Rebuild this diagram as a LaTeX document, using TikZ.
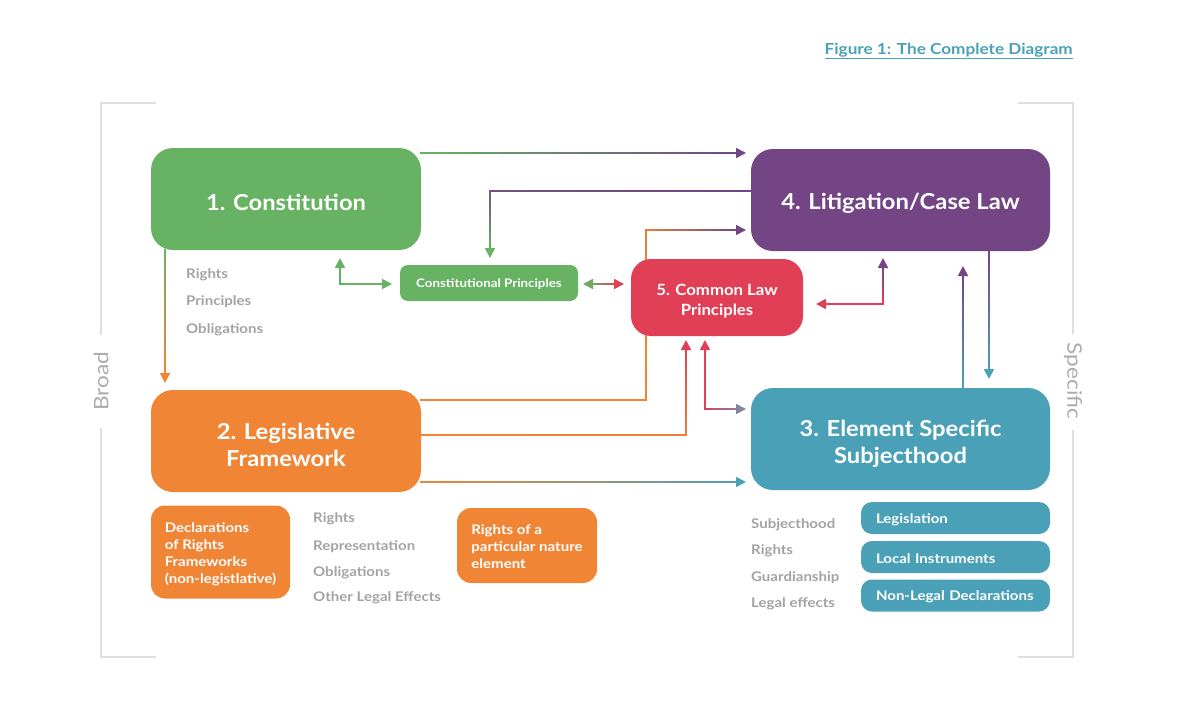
\documentclass[tikz,border=0pt]{standalone}
\usepackage{fontspec}
\setmainfont{Lato}
\newfontfamily\hfont{Lato}[FakeStretch=1.08]
\newfontfamily\bfont{Lato}[FakeStretch=1.13]
\usetikzlibrary{calc,arrows.meta}
\definecolor{cgreen}{HTML}{67B363}
\definecolor{cpurple}{HTML}{734585}
\definecolor{corange}{HTML}{F08535}
\definecolor{cteal}{HTML}{4AA1B7}
\definecolor{cred}{HTML}{E03F56}
\definecolor{cslate}{HTML}{7E86A0}
\definecolor{cgraytext}{HTML}{A3A3A3}
\definecolor{cbracket}{HTML}{DEDEDE}
\newcommand\lowr[2]{\raisebox{-#1}[\height][\depth]{#2}}
\tikzset{
  conn/.style={line width=1.7pt, line cap=rect},
  tipconn/.style={line width=1.7pt, -{Triangle[length=10pt,width=10pt]}},
  bigbox/.style={rounded corners=22pt, text=white, align=center, inner sep=0pt,
    font=\hfont\bfseries\fontsize{22}{27}\selectfont},
  smallbox/.style={rounded corners=14pt, text=white, align=left, inner sep=0pt,
    font=\bfont\bfseries\fontsize{13.3}{17}\selectfont},
  tealbox/.style={rounded corners=11pt, fill=cteal, text=white, align=left,
    inner xsep=15pt, inner ysep=0pt, text width=159pt, minimum height=32pt,
    font=\bfont\bfseries\fontsize{13.3}{16}\selectfont},
  graylabel/.style={anchor=west, text=cgraytext, inner sep=0pt,
    font=\bfont\bfseries\fontsize{13.3}{16}\selectfont},
  bracket/.style={draw=cbracket, line width=1.5pt},
  sidelabel/.style={text=cgraytext!90, inner sep=0pt, font=\bfont\fontsize{20}{22}\selectfont},
}
\newcommand\gseg[6]{%
  \foreach \i in {0,...,11}{%
    \pgfmathsetmacro\fa{\i/12}%
    \pgfmathsetmacro\fb{(\i+1)/12}%
    \pgfmathtruncatemacro\pc{#5+(#6-#5)*(\i+0.5)/12}%
    \draw[conn, draw={#4!\pc!#3}] ($(#1)!\fa!(#2)$) -- ($(#1)!\fb!(#2)$);
  }}
\newcommand\gsegA[6]{%
  \coordinate (gtmp) at ($(#2)!5pt!(#1)$);
  \gseg{#1}{gtmp}{#3}{#4}{#5}{#6}%
  \draw[tipconn, draw={#4!#6!#3}] ($(#2)!10pt!(#1)$) -- (#2);}
\begin{document}
\begin{tikzpicture}[x=1pt,y=-1pt]
\useasboundingbox (0,0) rectangle (1179,717);
% connector coordinates (drawn first: boxes lie over them)
\coordinate (c1s) at (421,153); \coordinate (c1e) at (746,153);
\coordinate (c2s) at (751,191); \coordinate (c2b) at (490,191); \coordinate (c2e) at (490,258);
\coordinate (c3s) at (165,250); \coordinate (c3e) at (165,383);
\coordinate (c4b) at (340,284); \coordinate (c4u) at (340,258); \coordinate (c4r) at (392,284);
\coordinate (c5m) at (603,284); \coordinate (c5l) at (583,284); \coordinate (c5r) at (624,284);
\coordinate (c6s) at (421,400); \coordinate (c6b) at (646,400); \coordinate (c6c) at (646,230); \coordinate (c6e) at (746,230);
\coordinate (c7s) at (421,435); \coordinate (c7b) at (686,435); \coordinate (c7e) at (686,340);
\coordinate (c8u) at (705,340); \coordinate (c8b) at (705,409); \coordinate (c8r) at (746,409);
\coordinate (c9s) at (421,482); \coordinate (c9e) at (746,482);
\coordinate (c10l) at (816,304); \coordinate (c10b) at (883,304); \coordinate (c10u) at (883,258);
\coordinate (c11s) at (963,388); \coordinate (c11e) at (963,266);
\coordinate (c12s) at (989,251); \coordinate (c12e) at (989,379);
% connectors
\gsegA{c1s}{c1e}{cgreen}{cpurple}{0}{100}
\gseg{c2s}{c2b}{cpurple}{cgreen}{0}{15}
\gsegA{c2b}{c2e}{cpurple}{cgreen}{15}{100}
\gsegA{c3s}{c3e}{cgreen}{corange}{0}{100}
\gsegA{c4b}{c4u}{cgreen}{cgreen}{0}{0}
\gsegA{c4b}{c4r}{cgreen}{cgreen}{0}{0}
\gsegA{c5m}{c5l}{cgreen}{cred}{50}{10}
\gsegA{c5m}{c5r}{cgreen}{cred}{50}{100}
\gseg{c6s}{c6b}{corange}{cpurple}{0}{0}
\gseg{c6b}{c6c}{corange}{cpurple}{0}{10}
\gsegA{c6c}{c6e}{corange}{cpurple}{10}{100}
\gseg{c7s}{c7b}{corange}{cred}{0}{10}
\gsegA{c7b}{c7e}{corange}{cred}{10}{100}
\gsegA{c8b}{c8u}{cred}{cslate}{0}{0}
\gsegA{c8b}{c8r}{cred}{cslate}{0}{100}
\gsegA{c9s}{c9e}{corange}{cteal}{0}{100}
\gsegA{c10b}{c10l}{cred}{cpurple}{0}{0}
\gsegA{c10b}{c10u}{cred}{cpurple}{0}{100}
\gsegA{c11s}{c11e}{cteal}{cpurple}{0}{100}
\gsegA{c12s}{c12e}{cpurple}{cteal}{0}{100}
% title
\node[anchor=east, inner sep=0pt, text=cteal, font=\bfont\bfseries\fontsize{15.2}{18}\selectfont] (title) at (1073,51) {\underline{Figure 1: The Complete Diagram}};
% brackets
\draw[bracket] (156,103) -- (101,103) -- (101,335);
\draw[bracket] (101,428) -- (101,657) -- (156,657);
\draw[bracket] (1018,103) -- (1073,103) -- (1073,334);
\draw[bracket] (1073,430) -- (1073,657) -- (1018,657);
\node[sidelabel, rotate=90] (broad) at (101,381) {Broad};
\node[sidelabel, rotate=-90] (specific) at (1073,381) {Specific};
% main boxes
\node[bigbox, fill=cgreen, minimum width=270pt, minimum height=102pt] (con) at (286,199) {\lowr{3pt}{1. Constitution}};
\node[bigbox, fill=cpurple, minimum width=299pt, minimum height=102pt] (lit) at (900.5,200) {\lowr{3pt}{4. Litigation/Case Law}};
\node[bigbox, fill=corange, minimum width=270pt, minimum height=102pt] (leg) at (286,441) {\lowr{4pt}{2. Legislative}\\\lowr{4pt}{Framework}};
\node[bigbox, fill=cteal, minimum width=299pt, minimum height=102pt] (ele) at (900.5,439) {\lowr{5pt}{3. Element Specific}\\\lowr{5pt}{Subjecthood}};
\node[bigbox, rounded corners=20pt, fill=cred, minimum width=172pt, minimum height=77pt,
  font=\hfont\bfseries\fontsize{15.5}{20}\selectfont] (cl) at (717,297.5) {\lowr{4pt}{5. Common Law}\\\lowr{4pt}{Principles}};
\node[bigbox, rounded corners=8pt, fill=cgreen, minimum width=178pt, minimum height=36pt,
  font=\bfont\bfseries\fontsize{11.8}{14}\selectfont] (cp) at (489,283) {\lowr{1pt}{Constitutional Principles}};
% small boxes
\node[smallbox, fill=corange, minimum width=139pt, minimum height=93pt] (dec) at (220.5,552)
  {\lowr{2pt}{Declarations}\\\lowr{2pt}{of Rights}\\\lowr{2pt}{Frameworks}\\\lowr{2pt}{(non-legistlative)}};
\node[smallbox, fill=corange, minimum width=140pt, minimum height=75pt] (rpn) at (527,545.5)
  {\lowr{1pt}{Rights of a}\\\lowr{1pt}{particular nature}\\\lowr{1pt}{element}};
\node[tealbox] (lg) at (955.5,518) {\lowr{1.5pt}{Legislation}};
\node[tealbox] (li) at (955.5,557) {\lowr{1.5pt}{Local Instruments}};
\node[tealbox] (nl) at (955.5,595.5) {\lowr{1.5pt}{Non-Legal Declarations}};
% gray labels
\node[graylabel] (l1) at (186,275) {Rights};
\node[graylabel] (l2) at (186,302) {Principles};
\node[graylabel] (l3) at (186,330) {Obligations};
\node[graylabel] (m1) at (313,519) {Rights};
\node[graylabel] (m2) at (313,547) {Representation};
\node[graylabel] (m3) at (313,573) {Obligations};
\node[graylabel] (m4) at (313,598) {Other Legal Effects};
\node[graylabel] (r1) at (751,525) {Subjecthood};
\node[graylabel] (r2) at (751,551) {Rights};
\node[graylabel] (r3) at (751,578) {Guardianship};
\node[graylabel] (r4) at (751,604) {Legal effects};
\end{tikzpicture}
\end{document}
